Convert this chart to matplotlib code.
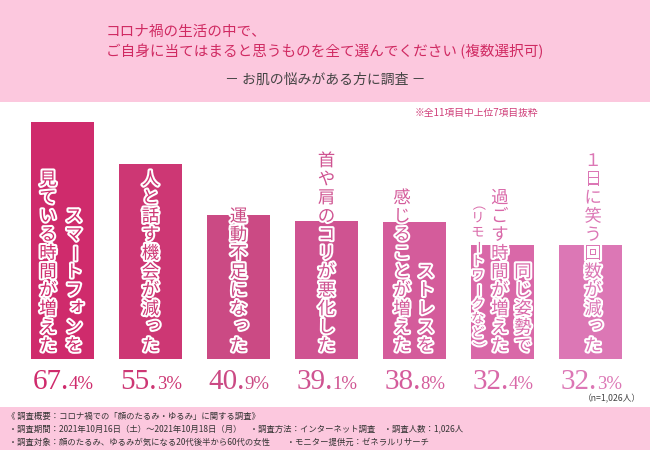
import matplotlib
matplotlib.use("Agg")
from matplotlib import pyplot as plt
from matplotlib import patheffects as pe

plt.rcParams['font.family'] = ['Noto Sans CJK JP', 'DejaVu Sans']

# data
values = [67.4, 55.3, 40.9, 39.1, 38.8, 32.4, 32.3]
# each item: columns of vertical text, left to right
label_cols = [
    ["見ている時間が増えた", "スマートフォンを"],
    ["人と話す機会が減った"],
    ["運動不足になった"],
    ["首や肩のコリが悪化した"],
    ["感じることが増えた", "ストレスを"],
    ["（リモートワークなど）", "過ごす時間が増えた", "同じ姿勢で"],
    ["１日に笑う回数が減った"],
]
bar_colors = ["#CF2B6C", "#CD3774", "#CB4A84", "#CF5391", "#D45C9B", "#D968A8", "#DC77B5"]

title_lines = ["コロナ禍の生活の中で、",
               "ご自身に当てはまると思うものを全て選んでください (複数選択可)"]
subtitle = "－ お肌の悩みがある方に調査 －"
note = "※全11項目中上位7項目抜粋"
n_note = "（n=1,026人）"
footer_lines = [
    "《 調査概要：コロナ禍での「顔のたるみ・ゆるみ」に関する調査》",
    " ・調査期間：2021年10月16日（土）～2021年10月18日（月）　・調査方法：インターネット調査　・調査人数：1,026人",
    " ・調査対象：顔のたるみ、ゆるみが気になる20代後半から60代の女性　　・モニター提供元：ゼネラルリサーチ",
]

# column x offsets (bar index units) for each item
col_dx = [[-0.165, 0.13], [0.0], [0.0], [0.0], [-0.142, 0.13], [-0.28, -0.03, 0.233], [0.03]]

W, H = 650, 450
fig = plt.figure(figsize=(6.5, 4.5), dpi=100)
fig.patch.set_facecolor("white")

# background / decoration axes in pixel coords
bg = fig.add_axes([0, 0, 1, 1])
bg.set_xlim(0, W)
bg.set_ylim(H, 0)
bg.axis("off")
pink = "#FCC8DE"
bg.add_patch(plt.Rectangle((0, 0), W, 102, color=pink, lw=0))
bg.add_patch(plt.Rectangle((0, 407), W, 43, color=pink, lw=0))

bg.text(106, 32, title_lines[0], fontsize=10.5, color="#D02A62", va="center")
bg.text(106, 51, title_lines[1], fontsize=10.5, color="#D02A62", va="center")
bg.text(325, 80, subtitle, fontsize=10, color="#444444", va="center", ha="center")
bg.text(415, 113, note, fontsize=7, color="#D0407A", va="center")
bg.text(641, 399, n_note, fontsize=6.3, color="#444444", va="center", ha="right")
for i, line in enumerate(footer_lines):
    bg.text(7, 416 + i * 13.2, line, fontsize=6.0, color="#333333", va="center")

# bar axes: baseline at y=359px, 3.52 px per %
px_per = 3.52
bottom_px, top_px = 359, 102
ax = fig.add_axes([0, (H - bottom_px) / H, 1, (bottom_px - top_px) / H])
ax.patch.set_alpha(0)
ax.set_xlim(-62.5 / 88, (W - 62.5) / 88)
ax.set_ylim(0, (bottom_px - top_px) / px_per)
ax.axis("off")

x = list(range(len(values)))
ax.bar(x, values, width=63 / 88, color=bar_colors, zorder=1)

rotated = set("ー（）～〜")
small_kana = set("っゃゅょッャュョァィゥェォ")
stroke = [pe.withStroke(linewidth=3, foreground="white")]


def column(xc, text, color, fs, step_px, center_px):
    # stack characters top to bottom, last one centred at center_px
    n = len(text)
    for i, ch in enumerate(text):
        y = (bottom_px - center_px + (n - 1 - i) * step_px) / px_per
        dx, dy = 0, 0
        if ch in small_kana:
            dx, dy = 0.035, 3 / px_per
        ax.text(xc + dx, y + dy, ch, fontsize=fs, color=color, ha="center", va="center",
                rotation=-90 if ch in rotated else 0, path_effects=stroke, zorder=3)


for i, cols in enumerate(label_cols):
    for j, txt in enumerate(cols):
        xc = i + col_dx[i][j]
        if txt.startswith("（"):
            column(xc, txt, bar_colors[i], 9.5, 14.4, 348)
        else:
            column(xc, txt, bar_colors[i], 12.5, 18.5, 346)

# percentage labels: big integer part, smaller decimal + %
for i, v in enumerate(values):
    s = f"{v:.1f}"
    big, small = s[:-1], s[-1] + "%"
    yb = -(389 - bottom_px) / px_per
    ax.text(i + 0.07, yb, big, fontsize=21, family="Liberation Serif", color=bar_colors[i],
            ha="right", va="baseline")
    ax.text(i + 0.07, yb, small, fontsize=13.5, family="Liberation Serif", color=bar_colors[i],
            ha="left", va="baseline")

fig.savefig("out.png", dpi=100)
